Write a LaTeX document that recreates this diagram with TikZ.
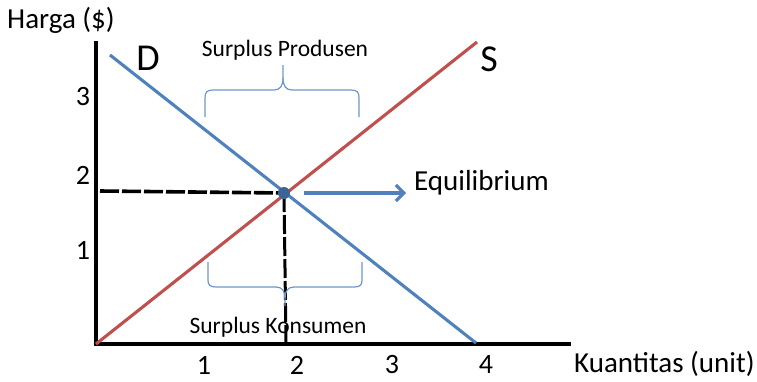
\documentclass[tikz,border=0pt]{standalone}
\usepackage{fontspec}
\setmainfont{Carlito}
\usetikzlibrary{arrows.meta}
\definecolor{dblue}{RGB}{79,129,189}
\definecolor{sred}{RGB}{192,80,77}
\definecolor{brc}{RGB}{110,150,200}
\definecolor{dotc}{RGB}{60,100,150}
\begin{document}
\begin{tikzpicture}[x=1pt,y=-1pt,
  axis/.style={line width=3.8pt,black},
  curve/.style={line width=3.1pt},
  dashline/.style={line width=3.6pt,black,dash pattern=on 19pt off 3pt},
  lbl/.style={inner sep=0pt,font=\fontsize{29}{34}\selectfont},
  num/.style={inner sep=0pt,font=\fontsize{28}{32}\selectfont},
  small/.style={inner sep=0pt,font=\fontsize{23.5}{28}\selectfont},
  big/.style={inner sep=0pt,font=\fontsize{38}{42}\selectfont},
  brace/.style={line width=1.2pt,brc}]
\useasboundingbox (0,0) rectangle (757,381);
% axes
\coordinate (O) at (96,344);
\coordinate (ytop) at (96,41);
\coordinate (xend) at (571,344);
\draw[axis] (ytop) -- (O) -- (xend);
% curves
\coordinate (D1) at (110,55);
\coordinate (D2) at (476,343);
\coordinate (S2) at (477,42);
\coordinate (E) at (284,193);
\draw[curve,sred] (O) -- (S2);
\draw[curve,dblue] (D1) -- (D2);
% dashed
\coordinate (yd) at (100,191);
\coordinate (xd) at (286,344);
\draw[dashline] (yd) -- (E);
\draw[dashline,line width=3pt] (E) -- (xd);
\node[circle,fill=dotc,inner sep=0pt,minimum size=12pt] (dot) at (E) {};
% equilibrium arrow
\node[lbl,anchor=west] (eq) at (414,183) {Equilibrium};
\coordinate (a1) at (304,193);
\coordinate (a2) at (406,193);
\draw[line width=3.1pt,dblue,-{Straight Barb[length=8pt,width=16pt,line width=3.1pt]}] (a1) -- (a2);
% labels
\node[lbl,anchor=west] (harga) at (7,20) {Harga (\$)};
\node[lbl,anchor=west] (kuan) at (574,364) {Kuantitas (unit)};
\node[big] (Dl) at (148,58) {D};
\node[big] (Sl) at (489,59) {S};
\node[num] (y3) at (83,97) {3};
\node[num] (y2) at (83,175) {2};
\node[num] (y1) at (83,250) {1};
\node[num] (x1) at (204,365) {1};
\node[num] (x2) at (297,365) {2};
\node[num] (x3) at (392,365) {3};
\node[num] (x4) at (486,365) {4};
% braces
\node[small] (sp) at (285,50) {Surplus Produsen};
\draw[brace] (205,117) -- (205,98) .. controls (205,92) and (207,90) .. (213,90)
  -- (274,90) .. controls (280,90) and (283,86) .. (283,78) -- (283,65);
\draw[brace] (359,117) -- (359,98) .. controls (359,92) and (357,90) .. (351,90)
  -- (292,90) .. controls (286,90) and (283,86) .. (283,78);
\node[small] (sk) at (278,327) {Surplus Konsumen};
\draw[brace] (208,262) -- (208,280) .. controls (208,285) and (210,287) .. (216,287)
  -- (276,287) .. controls (282,287) and (285,291) .. (285,298) -- (285,306);
\draw[brace] (362,262) -- (362,280) .. controls (362,285) and (360,287) .. (354,287)
  -- (294,287) .. controls (288,287) and (285,291) .. (285,298);
\end{tikzpicture}
\end{document}
